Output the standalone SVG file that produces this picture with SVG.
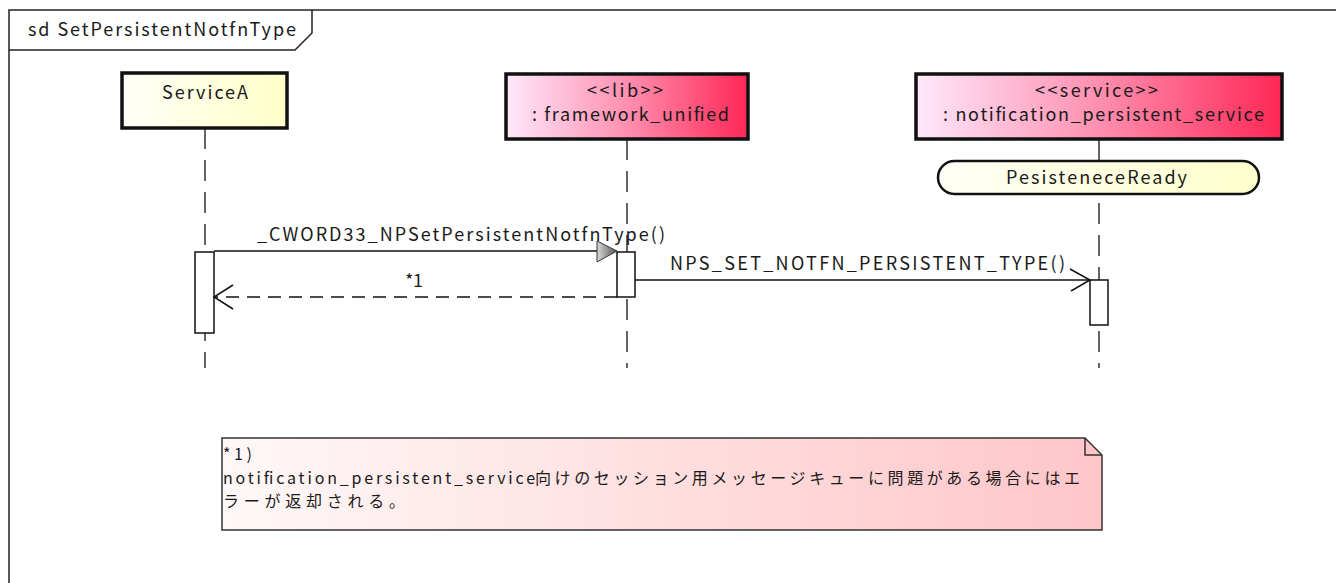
<svg xmlns="http://www.w3.org/2000/svg" width="1336" height="583" viewBox="0 0 1336 583">
<style>
text{font-family:"Noto Sans CJK JP","Noto Sans",sans-serif;font-size:18px;fill:#1a1a1a}
.nt{font-size:16px}
.frame{fill:none;stroke:#222;stroke-width:1.5}
.part{stroke:#111;stroke-width:3.5}
.life{stroke:#333;stroke-width:1.5;stroke-dasharray:21,11;fill:none}
.act{fill:#fff;stroke:#111;stroke-width:1.5}
.msg{stroke:#111;stroke-width:1.5;fill:none}
.ret{stroke:#111;stroke-width:1.5;fill:none;stroke-dasharray:13,8}
</style>
<defs>
<linearGradient id="gY" x1="0" y1="0" x2="1" y2="0"><stop offset="0" stop-color="#fffff8"/><stop offset="1" stop-color="#ffffc8"/></linearGradient>
<linearGradient id="gP" x1="0" y1="0" x2="1" y2="0"><stop offset="0" stop-color="#ffe8fb"/><stop offset="0.5" stop-color="#ff8fb0"/><stop offset="1" stop-color="#ff2755"/></linearGradient>
<linearGradient id="gS" x1="0" y1="0" x2="1" y2="0"><stop offset="0" stop-color="#fffff6"/><stop offset="1" stop-color="#ffffcc"/></linearGradient>
<linearGradient id="gN" x1="0" y1="0" x2="1" y2="0"><stop offset="0" stop-color="#fff8f8"/><stop offset="1" stop-color="#ffc6c8"/></linearGradient>
<linearGradient id="gA" x1="0" y1="0" x2="1" y2="0"><stop offset="0" stop-color="#d8d8d8"/><stop offset="1" stop-color="#555"/></linearGradient>
</defs>
<rect width="1336" height="583" fill="#fff"/>
<g id="frame">
<rect class="frame" x="9" y="10" width="1400" height="620"/>
<path class="frame" d="M9,50 H295 L312,33 V10"/>
<text x="28" y="36" textLength="268">sd SetPersistentNotfnType</text>
</g>
<g id="lifelines">
<line class="life" x1="205" y1="128" x2="205" y2="368"/>
<line class="life" x1="627" y1="139" x2="627" y2="368"/>
<line class="life" x1="1099" y1="139" x2="1099" y2="368"/>
</g>
<g id="ServiceA">
<rect class="part" x="122" y="73" width="165" height="55" fill="url(#gY)"/>
<text x="162" y="99" textLength="86">ServiceA</text>
</g>
<g id="framework_unified">
<rect class="part" x="506" y="74" width="242" height="65" fill="url(#gP)"/>
<text x="587" y="97" textLength="76">&lt;&lt;lib&gt;&gt;</text>
<text x="532" y="121" textLength="197">: framework_unified</text>
</g>
<g id="notification_persistent_service">
<rect class="part" x="916" y="74" width="366" height="65" fill="url(#gP)"/>
<text x="1035" y="97" textLength="123">&lt;&lt;service&gt;&gt;</text>
<text x="943" y="121" textLength="321">: notification_persistent_service</text>
</g>
<g id="PesisteneceReady">
<rect x="938" y="161" width="321" height="33" rx="16.5" ry="16.5" fill="url(#gS)" stroke="#111" stroke-width="2.5"/>
<text x="1006" y="184" textLength="181">PesisteneceReady</text>
</g>
<g id="activations">
<rect class="act" x="195" y="252" width="19" height="81"/>
<rect class="act" x="617" y="252" width="18" height="45"/>
<rect class="act" x="1090" y="280" width="18" height="45"/>
</g>
<g id="connectors">
<line class="msg" x1="214" y1="251" x2="598" y2="251"/>
<path d="M597,241 L617,251 L597,262 Z" fill="url(#gA)" stroke="#333" stroke-width="1"/>
<text x="257" y="241" textLength="408">_CWORD33_NPSetPersistentNotfnType()</text>
<line class="ret" x1="617" y1="297" x2="215" y2="297"/>
<path class="msg" d="M233,285 L214,297 L233,309"/>
<text x="405" y="287" textLength="18">*1</text>
<line class="msg" x1="635" y1="280" x2="1090" y2="280"/>
<path class="msg" d="M1070,269 L1090,280 L1071,291"/>
<text x="670" y="270" textLength="395">NPS_SET_NOTFN_PERSISTENT_TYPE()</text>
</g>
<g id="note">
<path d="M222,438 H1085 L1102,455 V530 H222 Z" fill="url(#gN)" stroke="#333" stroke-width="1.5"/>
<path d="M1085,438 V455 H1102" fill="none" stroke="#333" stroke-width="1.5"/>
<text class="nt" x="223" y="460" textLength="29">*1)</text>
<text class="nt" y="484"><tspan x="223" textLength="312">notification_persistent_service</tspan><tspan x="535" textLength="545">向けのセッション用メッセージキューに問題がある場合にはエ</tspan></text>
<text class="nt" x="223" y="507" textLength="182">ラーが返却される。</text>
</g>
</svg>
